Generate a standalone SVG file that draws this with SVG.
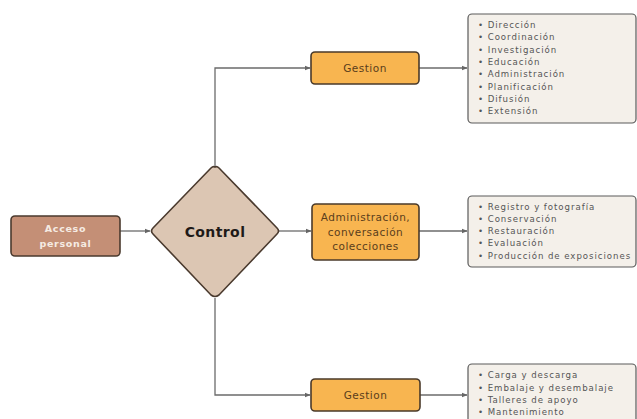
<svg xmlns="http://www.w3.org/2000/svg" width="637" height="419" viewBox="0 0 637 419">
<defs>
<marker id="ah" viewBox="0 0 10 10" refX="9" refY="5" markerWidth="6" markerHeight="6" orient="auto" markerUnits="userSpaceOnUse">
<path d="M0,1 L10,5 L0,9 z" fill="#666"/>
</marker>
<style>
.conn{fill:none;stroke:#6b6b6b;stroke-width:1.3}
.org{fill:#f8b550;stroke:#4a3a2a;stroke-width:1.6}
.org-t{font-family:"DejaVu Sans",sans-serif;font-size:10.5px;fill:#5a3d1c;text-anchor:middle;letter-spacing:0.5px}
.list{fill:#f4f0ea;stroke:#5a5a5a;stroke-width:1.2}
.li{font-family:"DejaVu Sans",sans-serif;font-size:8.6px;fill:#555;letter-spacing:0.95px}
</style>
</defs>
<rect width="637" height="419" fill="#ffffff"/>
<g id="connectors">
<path class="conn" d="M120,231 L150,231" marker-end="url(#ah)"/>
<path class="conn" d="M215,166 L215,68 L310,68" marker-end="url(#ah)"/>
<path class="conn" d="M279,231 L311,231" marker-end="url(#ah)"/>
<path class="conn" d="M215,298 L215,395 L310,395" marker-end="url(#ah)"/>
<path class="conn" d="M419,68 L467,68" marker-end="url(#ah)"/>
<path class="conn" d="M419,231 L467,231" marker-end="url(#ah)"/>
<path class="conn" d="M420,395 L467,395" marker-end="url(#ah)"/>
</g>
<g id="acceso">
<rect x="11" y="216" width="109" height="40" rx="4" fill="#c48f76" stroke="#4a3a2e" stroke-width="1.6"/>
<text x="65.5" y="232" font-family="DejaVu Sans,sans-serif" font-size="9.5" font-weight="bold" fill="#f5ebe3" text-anchor="middle" letter-spacing="0.7">Acceso</text>
<text x="65.5" y="247" font-family="DejaVu Sans,sans-serif" font-size="9.5" font-weight="bold" fill="#f5ebe3" text-anchor="middle" letter-spacing="0.7">personal</text>
</g>
<g id="control">
<path d="M215,167 Q217,166 219,168 L277,228 Q280,231 277,234 L219,295 Q215,298 211,295 L153,234 Q150,231 153,228 L211,168 Q213,166 215,167 z" fill="#dcc6b3" stroke="#4a3a2e" stroke-width="1.6"/>
<text x="215" y="237" font-family="DejaVu Sans,sans-serif" font-size="14" font-weight="bold" fill="#1e1a18" text-anchor="middle" letter-spacing="0.4">Control</text>
</g>
<g id="gestion1">
<rect class="org" x="311" y="52" width="108" height="32" rx="4"/>
<text class="org-t" x="365" y="72">Gestion</text>
</g>
<g id="admin">
<rect class="org" x="312" y="204" width="107" height="56" rx="4"/>
<text class="org-t" x="365.5" y="221">Administración,</text>
<text class="org-t" x="365.5" y="235.5">conversación</text>
<text class="org-t" x="365.5" y="249.5">colecciones</text>
</g>
<g id="gestion2">
<rect class="org" x="311" y="379" width="109" height="32" rx="4"/>
<text class="org-t" x="365.5" y="399">Gestion</text>
</g>
<g id="list1">
<rect class="list" x="468" y="14" width="168" height="109" rx="4"/>
<text class="li" x="478" y="28">• Dirección</text>
<text class="li" x="478" y="40.3">• Coordinación</text>
<text class="li" x="478" y="52.6">• Investigación</text>
<text class="li" x="478" y="64.9">• Educación</text>
<text class="li" x="478" y="77.2">• Administración</text>
<text class="li" x="478" y="89.5">• Planificación</text>
<text class="li" x="478" y="101.8">• Difusión</text>
<text class="li" x="478" y="114.1">• Extensión</text>
</g>
<g id="list2">
<rect class="list" x="468" y="196" width="168" height="71" rx="4"/>
<text class="li" x="478" y="209.8">• Registro y fotografía</text>
<text class="li" x="478" y="221.9">• Conservación</text>
<text class="li" x="478" y="234.2">• Restauración</text>
<text class="li" x="478" y="246.3">• Evaluación</text>
<text class="li" x="478" y="258.7">• Producción de exposiciones</text>
</g>
<g id="list3">
<rect class="list" x="468" y="364" width="168" height="70" rx="4"/>
<text class="li" x="478" y="378.3">• Carga y descarga</text>
<text class="li" x="478" y="390.6">• Embalaje y desembalaje</text>
<text class="li" x="478" y="402.9">• Talleres de apoyo</text>
<text class="li" x="478" y="415.2">• Mantenimiento</text>
</g>
</svg>
